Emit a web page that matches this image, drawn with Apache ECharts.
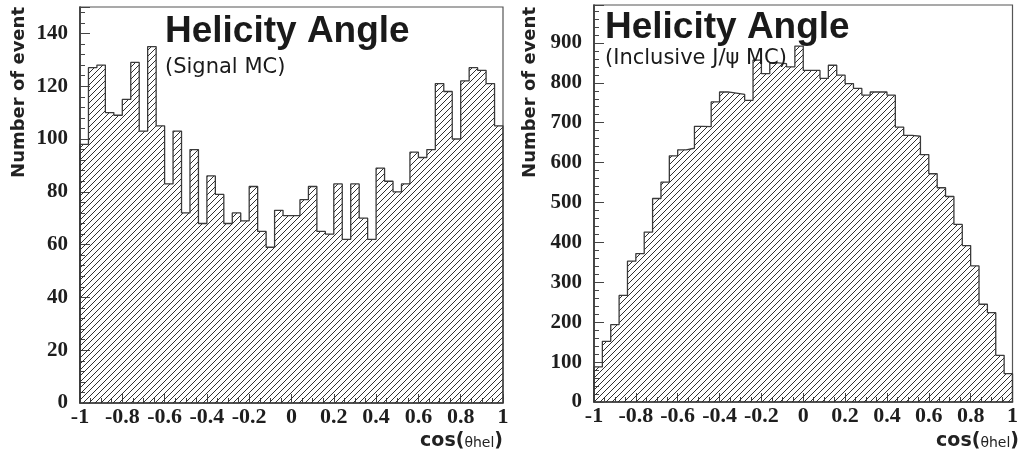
<!DOCTYPE html>
<html>
<head>
<meta charset="utf-8">
<script src="https://cdn.jsdelivr.net/npm/echarts@6/dist/echarts.min.js"></script>
<style>
  html, body { margin: 0; padding: 0; background: #fff; }
  #chart { width: 1021px; height: 457px; }
</style>
</head>
<body>
<div id="chart"></div>
<script>
// Histogram binning: 50 bins over cos(theta_hel) in [-1, 1]
const X_MIN = -1;
const X_MAX = 1;
const BIN_COUNT = 50;

// Signal MC, events per bin
const signalCounts = [
  98, 127, 128, 110, 109, 115, 129, 103, 135, 105,
  83, 103, 72, 96, 68, 86, 79, 68, 72, 69,
  82, 65, 59, 73, 71, 71, 77, 82, 65, 64,
  83, 62, 83, 70, 62, 89, 84, 80, 83, 95,
  93, 96, 121, 118, 100, 122, 127, 126, 121, 105
];

// Inclusive J/psi MC, events per bin
const inclusiveCounts = [
  88, 152, 194, 267, 353, 372, 426, 510, 551, 617,
  632, 636, 691, 690, 752, 777, 774, 771, 756, 857,
  823, 850, 848, 840, 892, 831, 831, 811, 844, 819,
  798, 786, 769, 777, 777, 769, 689, 668, 666, 620,
  572, 537, 515, 445, 392, 341, 245, 224, 117, 71
];

// Axis ranges
const signalYMax = 150;
const inclusiveYMax = 995;

// Text
const plotTitle = 'Helicity Angle';
const signalSubtitle = '(Signal MC)';
const inclusiveSubtitle = '(Inclusive J/\u03c8 MC)';
const yAxisTitle = 'Number of event';

// Step outline points: left edge of each bin, closed down to zero on both ends
function stepPoints(counts) {
  const w = (X_MAX - X_MIN) / BIN_COUNT;
  const pts = [[X_MIN, 0]];
  counts.forEach((v, i) => pts.push([X_MIN + i * w, v]));
  pts.push([X_MAX, counts[counts.length - 1]]);
  pts.push([X_MAX, 0]);
  return pts;
}

// Diagonal "////" hatch tile
function hatchTile() {
  const s = 6;
  const c = document.createElement('canvas');
  c.width = s; c.height = s;
  const g = c.getContext('2d');
  g.strokeStyle = '#262626';
  g.lineWidth = 0.95;
  g.beginPath();
  g.moveTo(-1, s + 1); g.lineTo(s + 1, -1);
  g.moveTo(-1, 1); g.lineTo(1, -1);
  g.moveTo(s - 1, s + 1); g.lineTo(s + 1, s - 1);
  g.stroke();
  return c;
}
const hatch = { image: hatchTile(), repeat: 'repeat' };

const tickFont = { fontFamily: 'Liberation Serif', fontWeight: 'bold', color: '#1e1e1e' };

function xAxisFor(gridIndex) {
  return {
    type: 'value', gridIndex, min: X_MIN, max: X_MAX, interval: 0.2,
    axisLine: { show: true, onZero: false, lineStyle: { color: '#333', width: 1.6 } },
    axisTick: { inside: true, length: 9, lineStyle: { color: '#444', width: 1 } },
    minorTick: { show: true, splitNumber: 4, length: 5, lineStyle: { color: '#444', width: 1 } },
    splitLine: { show: false },
    axisLabel: Object.assign({ fontSize: 22, margin: 3 }, tickFont)
  };
}

function yAxesFor(gridIndex, max, major, minor) {
  return [
    {
      type: 'value', gridIndex, min: 0, max, interval: major, position: 'left',
      axisLine: { show: true, onZero: false, lineStyle: { color: '#333', width: 1.6 } },
      axisTick: { inside: true, length: 10, lineStyle: { color: '#444', width: 1 } },
      splitLine: { show: false },
      axisLabel: Object.assign({
        fontSize: 21, margin: 12,
        formatter: v => (v % major === 0 ? String(v) : '')
      }, tickFont)
    },
    {
      type: 'value', gridIndex, min: 0, max, interval: minor, position: 'left', offset: 0,
      axisLine: { show: false, onZero: false },
      axisTick: { inside: true, length: 5, lineStyle: { color: '#444', width: 1 } },
      splitLine: { show: false },
      axisLabel: { show: false }
    }
  ];
}

function histSeries(counts, axisIndex) {
  return {
    type: 'line', step: 'end',
    xAxisIndex: axisIndex, yAxisIndex: axisIndex * 2,
    data: stepPoints(counts),
    symbol: 'none', animation: false,
    lineStyle: { color: '#3a3a3a', width: 1.3 },
    areaStyle: { color: hatch, opacity: 1 },
    z: 2
  };
}

function xTitle(right) {
  return {
    type: 'text', right, top: 432, z: 10,
    style: {
      text: '{a|cos(}{b|\u03b8hel}{a|)}',
      rich: {
        a: { fontFamily: 'DejaVu Sans', fontWeight: 'bold', fontSize: 19, fill: '#222' },
        b: { fontFamily: 'DejaVu Sans', fontSize: 14, fill: '#222', padding: [4, 0, 0, 0] }
      }
    }
  };
}

function yTitle(x) {
  return {
    type: 'text', x, y: 7, rotation: Math.PI / 2, z: 10,
    style: {
      text: yAxisTitle, align: 'right', verticalAlign: 'middle',
      fontFamily: 'DejaVu Sans', fontWeight: 'bold', fontSize: 18, fill: '#222'
    }
  };
}

const chart = echarts.init(document.getElementById('chart'), null, { renderer: 'canvas' });
chart.setOption({
  animation: false,
  backgroundColor: '#fff',
  grid: [
    { left: 80, top: 7, width: 423, height: 396, show: true, borderColor: '#555', borderWidth: 1.2, backgroundColor: 'transparent' },
    { left: 594, top: 5, width: 423, height: 397, show: true, borderColor: '#555', borderWidth: 1.2, backgroundColor: 'transparent' }
  ],
  xAxis: [xAxisFor(0), xAxisFor(1)],
  yAxis: [
    ...yAxesFor(0, signalYMax, 20, 4),
    ...yAxesFor(1, inclusiveYMax, 100, 20)
  ],
  series: [
    histSeries(signalCounts, 0),
    histSeries(inclusiveCounts, 1)
  ],
  graphic: [
    { type: 'text', left: 165, top: 13, z: 10, style: { text: plotTitle, fontFamily: 'Liberation Sans', fontWeight: 'bold', fontSize: 37, fill: '#1a1a1a' } },
    { type: 'text', left: 165, top: 57, z: 10, style: { text: signalSubtitle, fontFamily: 'DejaVu Sans', fontSize: 21, fill: '#1a1a1a' } },
    { type: 'text', left: 605, top: 9, z: 10, style: { text: plotTitle, fontFamily: 'Liberation Sans', fontWeight: 'bold', fontSize: 37, fill: '#1a1a1a' } },
    { type: 'text', left: 605, top: 48, z: 10, style: { text: inclusiveSubtitle, fontFamily: 'DejaVu Sans', fontSize: 21, fill: '#1a1a1a' } },
    yTitle(19),
    yTitle(530),
    xTitle(1021 - 503),
    xTitle(2)
  ]
});
</script>
</body>
</html>
